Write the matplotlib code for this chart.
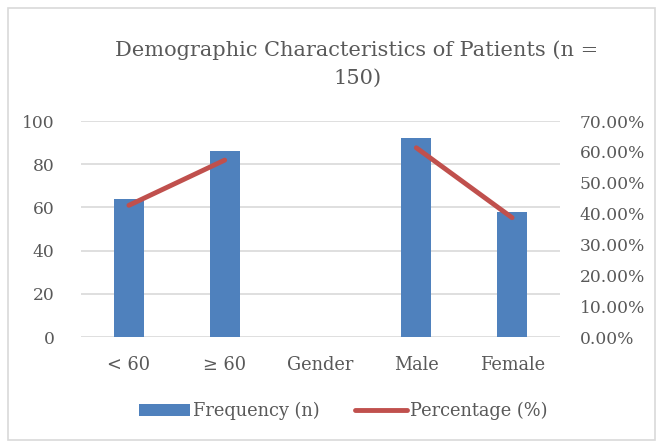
import matplotlib
matplotlib.use("Agg")
import matplotlib.pyplot as plt
import numpy as np
from matplotlib.patches import Rectangle

categories = ["< 60", "≥ 60", "Gender", "Male", "Female"]
frequency = [64, 86, np.nan, 92, 58]
percentage = [0.4267, 0.5733, np.nan, 0.6133, 0.3867]
left_ticks = [0, 20, 40, 60, 80, 100]
right_ticks = [0, 0.1, 0.2, 0.3, 0.4, 0.5, 0.6, 0.7]

plt.rcParams['font.family'] = ['DejaVu Serif']
txt = '#595959'
fig = plt.figure(figsize=(6.62, 4.48), dpi=100)
W, H = 662, 448
ax = fig.add_axes([81/W, 1-337/H, (560-81)/W, (337-121)/H])
x = np.arange(len(categories))
ax.bar(x, frequency, width=0.31, color='#4f81bd', zorder=3, label='Frequency (n)')
ax.set_xlim(-0.5, len(categories)-0.5)
ax.set_ylim(0, 100)
ax.set_yticks(left_ticks)
ax.set_xticks(x)
ax.set_xticklabels(categories)
ax.grid(axis='y', color='#d9d9d9', linewidth=1.2, zorder=0)
for s in ax.spines.values():
    s.set_visible(False)
ax.tick_params(length=0, colors=txt)
ax.tick_params(axis='x', pad=14, labelsize=12.8)
ax.tick_params(axis='y', pad=19, labelsize=12.3)

ax2 = ax.twinx()
ax2.plot(x, percentage, color='#c0504d', linewidth=3.5, solid_capstyle='round', zorder=4, label='Percentage (%)')
ax2.set_ylim(0, 0.7)
ax2.set_yticks(right_ticks)
ax2.set_yticklabels([f"{v*100:.2f}%" for v in right_ticks])
for s in ax2.spines.values():
    s.set_visible(False)
ax2.tick_params(length=0, colors=txt, labelsize=12.3, pad=14)

fig.text(357/W, 1-50/H, "Demographic Characteristics of Patients (n =", ha='center', va='center', fontsize=15, color=txt)
fig.text(357/W, 1-78/H, "150)", ha='center', va='center', fontsize=15, color=txt)

h1, l1 = ax.get_legend_handles_labels()
h2, l2 = ax2.get_legend_handles_labels()
leg = fig.legend(h1+h2, l1+l2, loc='center', bbox_to_anchor=(343/W, 1-411/H), ncol=2, frameon=False,
                 fontsize=12.8, handlelength=2.9, handletextpad=0.15, columnspacing=2.0, labelcolor=txt)

fig.patches.append(Rectangle((8/W, 8/H), (655-8)/W, (440-8)/H, transform=fig.transFigure,
                             fill=False, edgecolor='#d9d9d9', linewidth=1.2))
fig.savefig("out.png", dpi=100)
